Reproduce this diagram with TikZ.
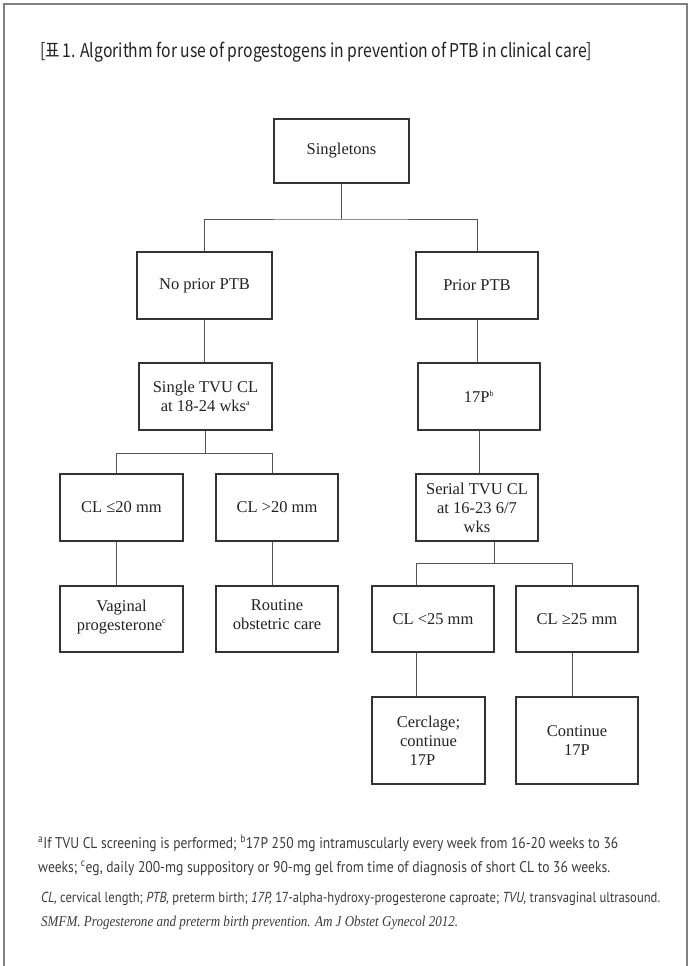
\documentclass[tikz,border=0pt]{standalone}
\usepackage{fontspec}
\usepackage{graphicx}
\setmainfont{Liberation Serif}
\newfontfamily\krfont{Noto Sans CJK KR}
\newfontfamily\fnfont{PT Sans}
\definecolor{boxc}{HTML}{333333}
\definecolor{linec}{HTML}{555555}
\definecolor{framec}{HTML}{808080}
\definecolor{txtc}{HTML}{222222}
\definecolor{fnc}{HTML}{3A3A3A}
\begin{document}
\begin{tikzpicture}[x=1pt,y=-1pt,
  box/.style={draw=boxc, line width=1.1pt, align=center, inner sep=0pt,
    font=\fontsize{16.5}{19}\selectfont, text=txtc},
  link/.style={draw=linec, line width=1pt},
  fnline/.style={anchor=base west, inner sep=0pt, text=fnc}]
\useasboundingbox (0,0) rectangle (690,966);
\draw[framec, line width=1.5pt] (4,975) -- (4,4) -- (687,4) -- (687,975);

% title
\node[fnline, text=txtc] (title) at (40,57)
  {\resizebox{552pt}{\height}{\krfont\fontsize{19}{21}\selectfont [표\,1. Algorithm for use of progestogens in prevention of PTB in clinical care]}};

% boxes
\node[box, minimum width=135pt, minimum height=64pt] (sing) at (341.5,151) {Singletons};
\node[box, minimum width=135pt, minimum height=67pt] (noprior) at (204.5,285.5) {No prior PTB};
\node[box, minimum width=122pt, minimum height=67pt] (prior) at (477,285.5) {Prior PTB};
\node[box, minimum width=133pt, minimum height=67pt] (single) at (205.5,396.5) {Single TVU CL\\at 18-24 wks\textsuperscript{\footnotesize a}};
\node[box, minimum width=122pt, minimum height=67pt] (p17) at (479,396.5) {17P\textsuperscript{\footnotesize b}};
\node[box, minimum width=123pt, minimum height=67pt] (cle20) at (121.5,507.5) {CL ≤20 mm};
\node[box, minimum width=122pt, minimum height=67pt] (cgt20) at (277,507.5) {CL >20 mm};
\node[box, minimum width=122pt, minimum height=67pt] (serial) at (477,507.5) {Serial TVU CL\\at 16-23 6/7\\wks};
\node[box, minimum width=123pt, minimum height=66pt] (vag) at (121.5,619) {Vaginal\\progesterone\textsuperscript{\footnotesize c}\\[-11pt]};
\node[box, minimum width=122pt, minimum height=66pt] (rout) at (277,619) {Routine\\obstetric care\\[-11pt]};
\node[box, minimum width=122pt, minimum height=66pt] (clt25) at (433,619) {CL <25 mm};
\node[box, minimum width=122pt, minimum height=66pt] (cge25) at (577,619) {CL ≥25 mm};
\node[box, minimum width=113pt, minimum height=87pt] (cerc) at (428.5,740.5) {Cerclage;\\continue\\\hspace*{-12pt}17P};
\node[box, minimum width=122pt, minimum height=87pt] (cont) at (577,740.5) {Continue\\17P};

% junctions
\coordinate (j1) at (341,219);
\coordinate (j2) at (205,453);
\coordinate (tL) at (116,453);
\coordinate (tR) at (272,453);
\coordinate (j3) at (494,563.5);
\coordinate (sL) at (416,563.5);
\coordinate (sR) at (572,563.5);

% connectors
\draw[link] (sing.south -| j1) -- (j1);
\draw[link] (noprior.north) |- (j1) -| (prior.north);
\draw[link] (noprior.south) -- (noprior.south |- single.north);
\draw[link] (prior.south) -- (prior.south |- p17.north);
\draw[link] (p17.south) -- (p17.south |- serial.north);
\draw[link] (j2 |- single.south) -- (j2);
\draw[link] (tL |- cle20.north) |- (tR) -- (tR |- cgt20.north);
\draw[link] (tL |- cle20.south) -- (tL |- vag.north);
\draw[link] (tR |- cgt20.south) -- (tR |- rout.north);
\draw[link] (j3 |- serial.south) -- (j3);
\draw[link] (sL |- clt25.north) |- (sR) -- (sR |- cge25.north);
\draw[link] (sL |- clt25.south) -- (sL |- cerc.north);
\draw[link] (sR |- cge25.south) -- (sR |- cont.north);

% footnotes
\node[fnline] (fn1) at (38,848)
  {\resizebox{580pt}{\height}{\fnfont\fontsize{15.5}{17}\selectfont \textsuperscript{a}If TVU CL screening is performed; \textsuperscript{b}17P 250 mg intramuscularly every week from 16-20 weeks to 36}};
\node[fnline] (fn2) at (38,872)
  {\resizebox{572pt}{\height}{\fnfont\fontsize{15.5}{17}\selectfont weeks; \textsuperscript{c}eg, daily 200-mg suppository or 90-mg gel from time of diagnosis of short CL to 36 weeks.}};
\node[fnline] (fn3) at (41,902)
  {\resizebox{619pt}{\height}{\fnfont\fontsize{14.5}{16}\selectfont {\itshape CL,} cervical length; {\itshape PTB,} preterm birth; {\itshape 17P,} 17-alpha-hydroxy-progesterone caproate; {\itshape TVU,} transvaginal ultrasound.}};
\node[fnline] (fn4) at (41,926)
  {\resizebox{417pt}{\height}{\fontsize{15}{17}\selectfont\itshape SMFM. Progesterone and preterm birth prevention. Am J Obstet Gynecol 2012.}};
\end{tikzpicture}
\end{document}
